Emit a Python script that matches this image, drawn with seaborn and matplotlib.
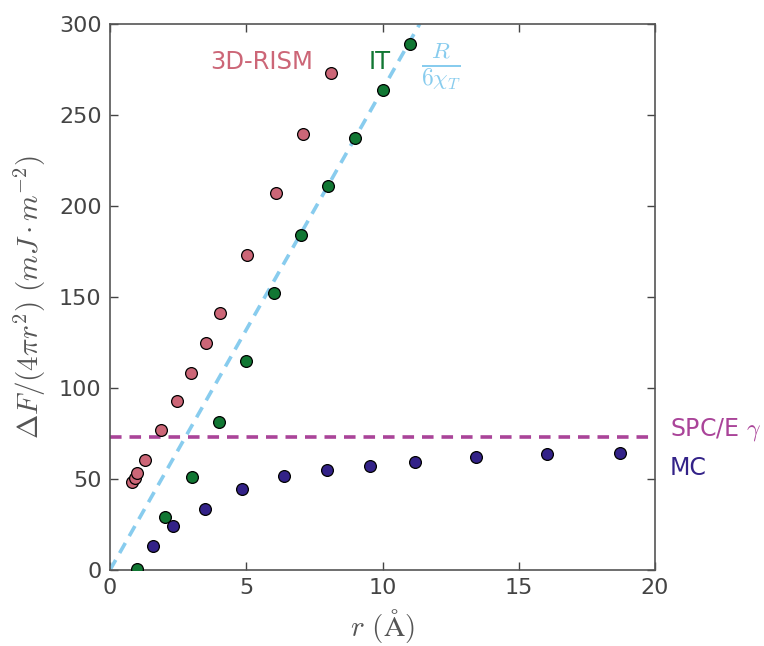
import matplotlib
matplotlib.use("Agg")
import matplotlib.pyplot as plt
import seaborn as sns
import pandas as pd
import numpy as np

# ---- data ----
rism_r = [0.82, 0.90, 0.99, 1.29, 1.88, 2.47, 2.99, 3.52, 4.05, 5.04, 6.08, 7.07, 8.10]
rism_F = [48.2, 50.4, 53.3, 60.5, 76.7, 92.8, 108.0, 124.7, 141.0, 172.9, 207.4, 239.6, 273.1]

it_r = [1, 2, 3, 4, 5, 6, 7, 8, 9, 10, 11]
it_F = [0.4, 29.0, 51.3, 81.1, 115.0, 152.1, 184.3, 211.0, 237.3, 263.5, 289.1]

mc_r = [1.58, 2.32, 3.48, 4.86, 6.40, 7.96, 9.54, 11.18, 13.44, 16.03, 18.70]
mc_F = [13.1, 24.1, 33.3, 44.3, 51.5, 55.1, 57.4, 59.2, 62.0, 64.0, 64.3]

line_slope = 26.4      # R / (6 chi_T)
spce_gamma = 73.3      # SPC/E surface tension

xticks = [0, 5, 10, 15, 20]
yticks = [0, 50, 100, 150, 200, 250, 300]

c_rism = "#CC6677"
c_it = "#117733"
c_line = "#88CCEE"
c_spce = "#AA4499"
c_mc = "#332288"

sns.set_style("ticks")
plt.rcParams["mathtext.fontset"] = "cm"
plt.rcParams["font.family"] = ["DejaVu Sans"]
plt.rcParams["xtick.direction"] = "in"
plt.rcParams["ytick.direction"] = "in"
plt.rcParams["xtick.top"] = True
plt.rcParams["ytick.right"] = True

fig = plt.figure(figsize=(7.64, 6.46), dpi=100)
ax = fig.add_axes([110/764, 1 - 570/646, 545/764, 546/646])

ax.axline((0, 0), slope=line_slope, color=c_line, lw=2.6, ls=(0, (3.2, 2.2)), zorder=1)
ax.axhline(spce_gamma, color=c_spce, lw=2.6, ls=(0, (3.2, 2.2)), zorder=1)

df_rism = pd.DataFrame({"r": rism_r, "F": rism_F})
df_it = pd.DataFrame({"r": it_r, "F": it_F})
df_mc = pd.DataFrame({"r": mc_r, "F": mc_F})

kw = dict(s=72, edgecolor="black", linewidth=0.9, zorder=3, legend=False)
sns.scatterplot(data=df_rism, x="r", y="F", color=c_rism, ax=ax, **kw)
sns.scatterplot(data=df_it, x="r", y="F", color=c_it, ax=ax, **kw)
sns.scatterplot(data=df_mc, x="r", y="F", color=c_mc, ax=ax, **kw)

ax.set_xlim(0, 20)
ax.set_ylim(0, 300)
ax.set_xticks(xticks)
ax.set_yticks(yticks)
ax.tick_params(labelsize=16, colors="#444444", length=6, width=1, pad=6)
for sp in ax.spines.values():
    sp.set_color("#555555")
    sp.set_linewidth(1.2)

ax.set_xlabel(r"$r\ (\mathrm{\AA})$", fontsize=21, color="#555555", labelpad=6)
ax.set_ylabel(r"$\Delta F/(4\pi r^2)\ (mJ\cdot m^{-2})$", fontsize=21, color="#555555", labelpad=8)

ax.text(5.55, 279, "3D-RISM", color=c_rism, fontsize=17.5, ha="center", va="center")
ax.text(9.9, 279, "IT", color=c_it, fontsize=17.5, ha="center", va="center")
ax.text(12.15, 277, r"$\frac{R}{6\chi_T}$", color=c_line, fontsize=24, ha="center", va="center")
ax.text(20.55, 77, r"SPC/E $\gamma$", color=c_spce, fontsize=17, ha="left", va="center", clip_on=False)
ax.text(20.55, 56, "MC", color=c_mc, fontsize=17, ha="left", va="center", clip_on=False)

fig.savefig("out.png", dpi=100)
